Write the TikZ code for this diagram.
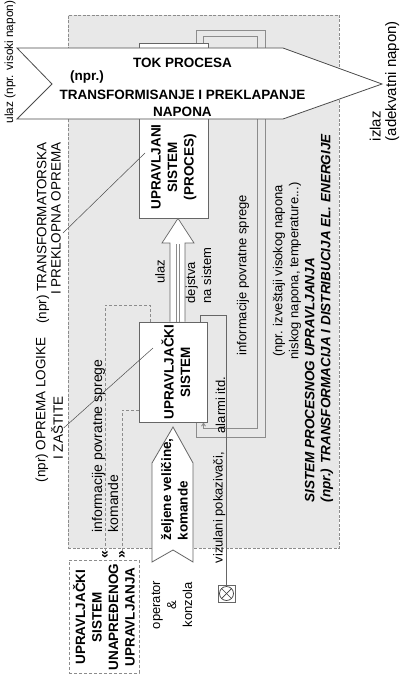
\documentclass[tikz,border=0pt]{standalone}
\usepackage{fontspec}
\setmainfont{Liberation Sans}
\usetikzlibrary{arrows.meta}
\begin{document}
\begin{tikzpicture}[x=1pt,y=-1pt,
  txt/.style={rotate=90,inner sep=0.5pt,font=\fontsize{13}{16}\selectfont},
  txtb/.style={rotate=90,inner sep=0.5pt,font=\fontsize{14}{16}\selectfont},
  txtc/.style={rotate=90,inner sep=0.5pt,font=\fontsize{13.5}{16}\selectfont},
  btxt/.style={rotate=90,inner sep=0.5pt,font=\fontsize{13.5}{16.5}\selectfont\bfseries},
  bitxt/.style={rotate=90,inner sep=0.5pt,font=\fontsize{13.5}{16}\selectfont\bfseries\itshape},
  htxt/.style={inner sep=0.5pt,font=\fontsize{13.5}{17}\selectfont\bfseries},
  boxst/.style={draw=black!60,fill=white,line width=0.8pt,inner sep=0pt},
  fb/.style={draw=black!45,line width=0.9pt},
  dsh/.style={draw=black!45,line width=0.8pt,dash pattern=on 3pt off 2pt},
  lead/.style={draw=black!70,line width=0.5pt},
  markst/.style={rotate=90,inner sep=0pt,font=\fontsize{14}{14}\selectfont\bfseries},
  lampst/.style={draw=black!60,line width=0.7pt,fill=white,minimum size=17pt,inner sep=0pt,
    path picture={
      \draw[black!75,line width=0.7pt] (path picture bounding box.center) circle (7pt);
      \draw[black!75,line width=0.7pt] ([shift={(-4.95pt,-4.95pt)}]path picture bounding box.center) -- ([shift={(4.95pt,4.95pt)}]path picture bounding box.center);
      \draw[black!75,line width=0.7pt] ([shift={(-4.95pt,4.95pt)}]path picture bounding box.center) -- ([shift={(4.95pt,-4.95pt)}]path picture bounding box.center);
    }}]
\useasboundingbox (0,0) rectangle (400,677);
\fill[white] (0,0) rectangle (400,677);

% system region
\node[draw=black!45, dash pattern=on 3pt off 1.5pt, fill=black!9, line width=0.7pt,
      minimum width=271pt, minimum height=533pt, inner sep=0pt] (sys) at (203.5,281.5) {};

% boxes (geometry only)
\node[boxst, minimum width=69pt, minimum height=175pt] (proc) at (173.5,130.5) {};
\node[boxst, minimum width=68pt, minimum height=100pt] (ctrl) at (173,372) {};
\node[lampst] (lamp) at (226.5,593.5) {};

% feedback loops
\coordinate (fo1) at (196,30);
\coordinate (fo2) at (265,437);
\coordinate (fi1) at (203.5,36);
\coordinate (fi2) at (257,428);
\draw[fb] (proc.north -| fo1) -- (fo1) -| (fo2) -| (ctrl.south -| fo1);
\draw[fb,-{Straight Barb[length=3pt,width=4pt]}] (proc.north -| fi1) -- (fi1) -| (fi2) -| (ctrl.south -| fi1);

% alarm / indicator line
\coordinate (al) at (200,315);
\draw[fb,draw=black!60] (ctrl.north -| al) -- (al) -| (lamp.north);

% dashed links to advanced control
\node[dsh, fill=white, minimum width=70pt, minimum height=113pt, inner sep=0pt] (adv) at (104,616.5) {};
\node[markst] (ma) at (105.5,555) {«};
\node[markst] (mb) at (122.5,555) {»};
\coordinate (dc) at (150,305);
\coordinate (da) at (105,305);
\coordinate (db) at (122,410);
\draw[dsh] (ctrl.north -| dc) -- (dc) -- (da) -- (da |- ma.east);
\draw[dsh] (ctrl.west |- db) -- (db) -- (db |- mb.east);

% redraw boxes on top of lines
\node[boxst, minimum width=69pt, minimum height=175pt] at (proc) {};
\node[boxst, minimum width=68pt, minimum height=100pt] at (ctrl) {};

% process flow arrow
\draw[draw=black!70, fill=white, line width=0.8pt] (17,48) -- (283,48) -- (382,84) -- (283,119) -- (17,119) -- (52,84) -- cycle;
\node[htxt] (tok) at (182.5,63) {TOK PROCESA};
\node[htxt] (npr) at (87,77) {(npr.)};
\node[htxt, align=center] (trans) at (182.5,103) {TRANSFORMISANJE I PREKLAPANJE\\NAPONA};

% hollow action arrow
\draw[draw=black!60, fill=white, line width=0.7pt] (ctrl.north -| 170,0) -- (170,243) -- (162,243) -- (proc.south -| 178,0) -- (194,243) -- (185,243) -- (ctrl.north -| 185,0);
\draw[draw=black!45, line width=0.6pt] (176.5,244) -- (176.5,322);
\draw[draw=black!45, line width=0.6pt] (179.5,244) -- (179.5,322);

% desired values arrow
\draw[draw=black!60, fill=white, line width=0.8pt] (173,427) -- (193,463) -- (193,562) -- (173,550) -- (152,562) -- (152,463) -- cycle;
\node[btxt, anchor=west, align=left] (zel) at (174.5,541) {željene veličine,\\komande};

% texts in boxes
\node[btxt, align=center] (proct) at (174,167) {UPRAVLJANI\\SISTEM\\(PROCES)};
\node[btxt, align=center] (ctrlt) at (176,372) {UPRAVLJAČKI\\SISTEM};
\node[btxt, align=center] (advt) at (104,617) {UPRAVLJAČKI\\SISTEM\\UNAPREĐENOG\\UPRAVLJANJA};

% labels
\node[txt] (ulz) at (160,272) {ulaz};
\node[txt, anchor=west, align=left] (dej) at (198.5,304) {dejstva\\na sistem};
\node[txt] (infr) at (243,275) {informacije povratne sprege};
\node[txt, align=center] (izv) at (287,271) {(npr. izveštaji visokog napona\\niskog napona, temperature...)};
\node[bitxt, anchor=west, align=left] (sysl) at (319,503) {SISTEM PROCESNOG UPRAVLJANJA\\(npr.) TRANSFORMACIJA I DISTRIBUCIJA EL. ENERGIJE};
\node[txt, anchor=south west] (alarm) at (226,434) {alarmi itd.};
\node[txt, anchor=south west] (viz) at (226,564) {vizulani pokazivači,};
\node[txtb, anchor=west, align=left] (infl) at (105,533) {informacije povratne sprege\\komande};
\node[txt, align=center] (oper) at (172,605) {operator\\\&\\konzola};

% outside labels
\node[txt, anchor=west, font=\fontsize{11.8}{14}\selectfont] (inl) at (10,124) {ulaz (npr. visoki napon)};
\node[txt, anchor=west, align=left, font=\fontsize{15}{15.5}\selectfont] (outl) at (384.5,142) {izlaz\\(adekvatni napon)};
\node[txtc, anchor=east] (tr1) at (43,142) {(npr) TRANSFORMATORSKA};
\node[txtc, anchor=east] (tr2) at (56,142) {I PREKLOPNA OPREMA};
\node[txtc] (lg1) at (42,410) {(npr) OPREMA LOGIKE};
\node[txtc] (lg2) at (57,428) {I ZAŠTITE};

% leader lines
\coordinate (la) at (63,233);
\coordinate (lb) at (145,153);
\coordinate (lc) at (153,348);
\draw[lead] (la) -- (lb);
\draw[lead] (lg2.south) -- (lc);
\end{tikzpicture}
\end{document}
